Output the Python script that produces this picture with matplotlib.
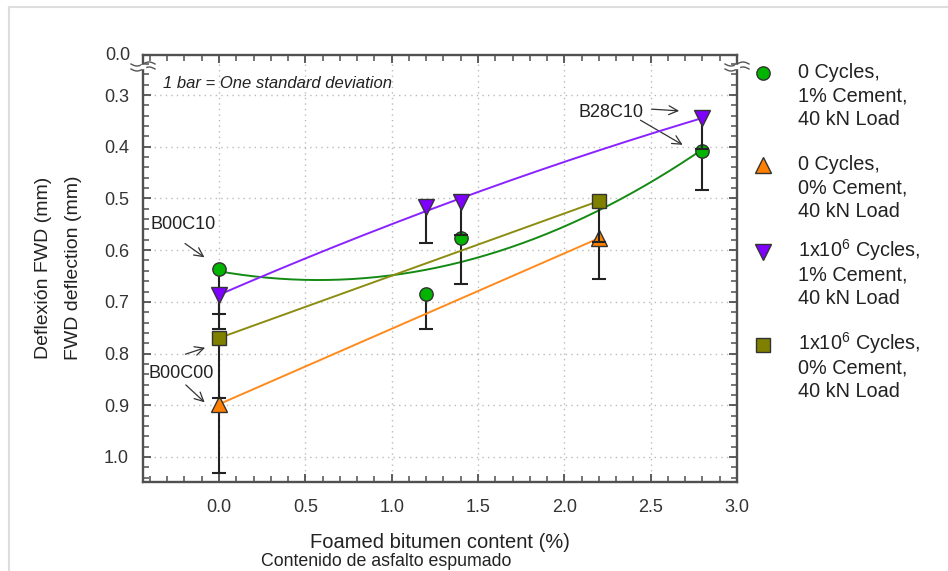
import numpy as np
import matplotlib
matplotlib.use("Agg")
import matplotlib.pyplot as plt
from matplotlib.lines import Line2D
from matplotlib.ticker import MultipleLocator, FixedLocator

plt.rcParams['font.family'] = ['Liberation Sans', 'DejaVu Sans']
plt.rcParams['mathtext.fontset'] = 'custom'
plt.rcParams['mathtext.rm'] = 'Liberation Sans'
plt.rcParams['mathtext.it'] = 'Liberation Sans:italic'

# ---------------- data ----------------
x_green = [0.0, 1.2, 1.4, 2.8]
y_green = [0.637, 0.685, 0.577, 0.408]
sd_green = [0.116, 0.068, 0.089, 0.076]

x_orange = [0.0, 2.2]
y_orange = [0.898, 0.577]
sd_orange = [0.133, 0.079]

x_purple = [0.0, 1.2, 1.4, 2.8]
y_purple = [0.687, 0.517, 0.507, 0.344]
sd_purple = [0.037, 0.069, 0.064, 0.060]

x_olive = [0.0, 2.2]
y_olive = [0.770, 0.505]
sd_olive = [0.116, 0.080]

legend_labels = [["0 Cycles,", "1% Cement,", "40 kN Load"],
                 ["0 Cycles,", "0% Cement,", "40 kN Load"],
                 ["1x10$^{6}$ Cycles,", "1% Cement,", "40 kN Load"],
                 ["1x10$^{6}$ Cycles,", "0% Cement,", "40 kN Load"]]

x_ticks = [0.0, 0.5, 1.0, 1.5, 2.0, 2.5, 3.0]
y_ticks = [0.3, 0.4, 0.5, 0.6, 0.7, 0.8, 0.9, 1.0]

# ---------------- figure ----------------
W, H = 948, 571
fig = plt.figure(figsize=(W / 100, H / 100), dpi=100)

def fx(px):
    return px / W

def fy(py):
    return 1 - py / H

ax = fig.add_axes([fx(143), fy(482), fx(737) - fx(143), fy(55) - fy(482)])
ax.set_xlim(-0.44, 3.0)
ax.set_ylim(1.0484, 0.2226)

spine_c = '#505050'
for s in ax.spines.values():
    s.set_color(spine_c)
    s.set_linewidth(1.7)

ax.xaxis.set_major_locator(FixedLocator(x_ticks))
ax.xaxis.set_minor_locator(MultipleLocator(0.1))
ax.yaxis.set_major_locator(FixedLocator(y_ticks))
ax.yaxis.set_minor_locator(MultipleLocator(0.02))
ax.set_xticklabels([f"{v:.1f}" for v in x_ticks])
ax.set_yticklabels([f"{v:.1f}" for v in y_ticks])
ax.tick_params(which='both', direction='in', top=True, right=True,
               color=spine_c, labelcolor='#333333', labelsize=13)
ax.tick_params(which='major', length=6, width=1.3)
ax.tick_params(which='minor', length=4, width=1.1)
ax.tick_params(axis='x', which='major', pad=12)
ax.tick_params(axis='y', which='major', pad=10)
ax.grid(True, which='major', linestyle=(0, (1, 3)), color='#bbbbbb', linewidth=1.0)
ax.set_axisbelow(True)

series = [
    (x_green, y_green, sd_green, 'o', '#00b400', '#138a13', 9.6, 2),
    (x_orange, y_orange, sd_orange, '^', '#ff8000', '#ff8a1c', 11.8, 1),
    (x_purple, y_purple, sd_purple, 'v', '#8000ff', '#8a22ff', 11.8, 2),
    (x_olive, y_olive, sd_olive, 's', '#7f7f00', '#8c8c12', 9.6, 1),
]

z = 3
for xs, ys, sds, mk, mc, lc, ms, deg in series:
    xs = np.asarray(xs); ys = np.asarray(ys); sds = np.asarray(sds)
    coef = np.polyfit(xs, ys, deg)
    xf = np.linspace(xs.min(), xs.max(), 200)
    ax.plot(xf, np.polyval(coef, xf), color=lc, lw=1.4, zorder=z)
    ax.vlines(xs, ys, ys + sds, color='#222222', lw=1.5, zorder=z + 1)
    ax.plot(xs, ys + sds, linestyle='none', marker='_', markersize=9.5,
            markeredgewidth=1.5, color='#222222', zorder=z + 1)
    ax.plot(xs, ys, linestyle='none', marker=mk, markersize=ms,
            markerfacecolor=mc, markeredgecolor='#333333', markeredgewidth=1.0,
            zorder=z + 2)
    z += 3

# annotations
arrow_kw = dict(arrowstyle='->', color='#333333', lw=0.9, mutation_scale=16)
ax.text(-0.394, 0.551, "B00C10", fontsize=13, color='#222222', va='center', ha='left')
ax.annotate("", xy=(-0.071, 0.617), xytext=(-0.21, 0.584), arrowprops=arrow_kw)
ax.annotate("", xy=(-0.065, 0.787), xytext=(-0.21, 0.803), arrowprops=arrow_kw)
ax.text(-0.411, 0.838, "B00C00", fontsize=13, color='#222222', va='center', ha='left')
ax.annotate("", xy=(-0.071, 0.898), xytext=(-0.204, 0.857), arrowprops=arrow_kw)
ax.text(2.081, 0.333, "B28C10", fontsize=13, color='#222222', va='center', ha='left')
ax.annotate("", xy=(2.681, 0.331), xytext=(2.49, 0.327), arrowprops=arrow_kw)
ax.annotate("", xy=(2.699, 0.399), xytext=(2.427, 0.346), arrowprops=arrow_kw)

ax.text(0.034, 0.934, "1 bar = One standard deviation", transform=ax.transAxes,
        fontsize=12, style='italic', color='#222222', va='center', ha='left')

# top "0.0" label and axis break marks
fig.text(fx(118), fy(56), "0.0", fontsize=13, color='#333333', ha='center', va='center')
t = np.linspace(-1, 1, 40)
for xc in (143, 737):
    for yc in (64, 69):
        xs_ = xc + 12 * t
        ys_ = yc - 2.0 * np.sin(np.pi * t)
        fig.add_artist(Line2D(fx(xs_), fy(ys_), color='#555555', lw=1.0))
    fig.add_artist(plt.Rectangle((fx(xc - 2), fy(68)), fx(4), fy(65) - fy(68),
                                 color='white', zorder=5))

# axis labels
fig.text(fx(44), fy(268), "Deflexión FWD (mm)", rotation=90, fontsize=14,
         color='#222222', ha='center', va='center')
fig.text(fx(74), fy(268), "FWD deflection (mm)", rotation=90, fontsize=14,
         color='#222222', ha='center', va='center')
fig.text(fx(440), fy(543), "Foamed bitumen content (%)", fontsize=14.5,
         color='#222222', ha='center', va='center')
fig.text(fx(386), fy(562), "Contenido de asfalto espumado", fontsize=12.8,
         color='#222222', ha='center', va='center')

# legend (manual)
leg_y = [73, 165, 252, 345]
for (xs, ys, sds, mk, mc, lc, ms, deg), lines, ly in zip(series, legend_labels, leg_y):
    fig.add_artist(Line2D([fx(763)], [fy(ly)], marker=mk, markersize=ms,
                          markerfacecolor=mc, markeredgecolor='#333333',
                          markeredgewidth=1.0, linestyle='none'))
    for i, line in enumerate(lines):
        fig.text(fx(798), fy(ly + 5 + 23.5 * i), line, fontsize=14.3,
                 color='#222222', ha='left', va='baseline')

# light frame
fig.add_artist(Line2D([fx(9), fx(9)], [fy(7), 0], color='#dddddd', lw=1.5))
fig.add_artist(Line2D([fx(9), 1], [fy(7), fy(7)], color='#dddddd', lw=1.5))

fig.savefig("out.png", dpi=100)
